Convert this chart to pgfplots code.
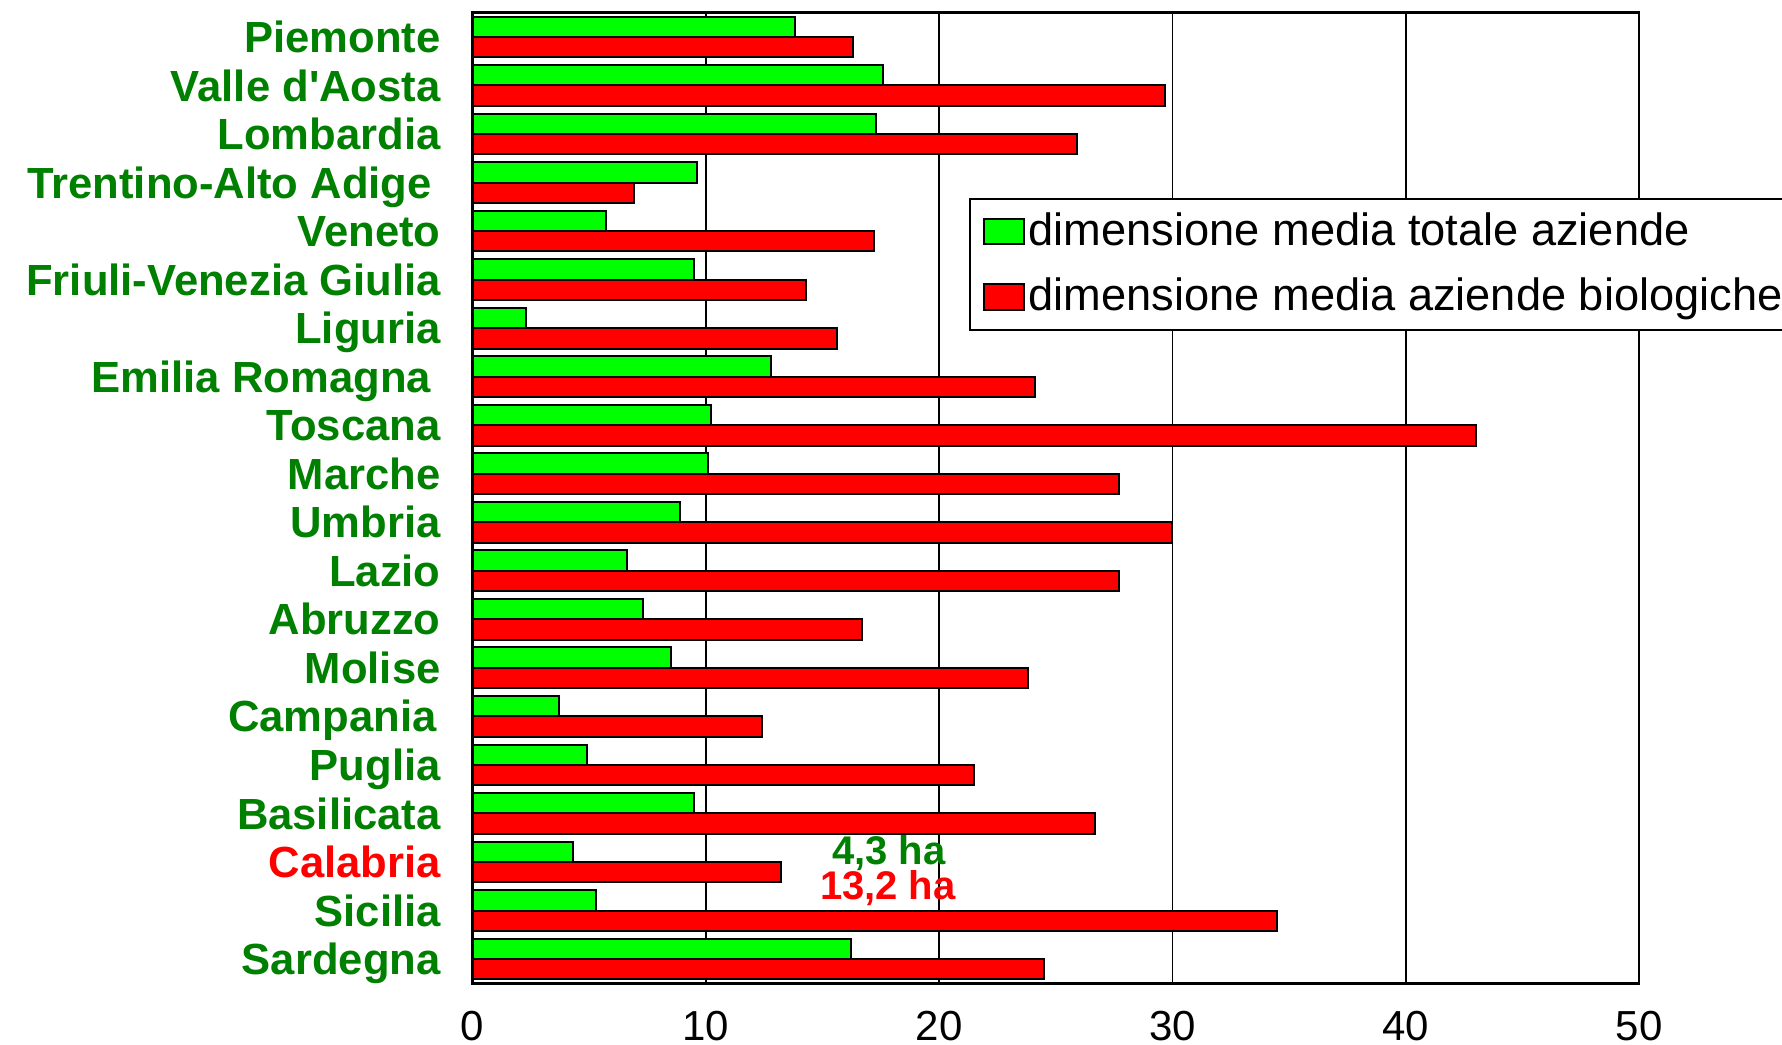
\documentclass[border=0pt]{standalone}
\usepackage{fontspec}
\setmainfont{Liberation Sans}
\usepackage{pgfplots}
\pgfplotsset{compat=1.18}
\definecolor{barg}{RGB}{0,255,0}
\definecolor{barr}{RGB}{255,0,0}
\definecolor{lblg}{RGB}{0,128,0}
\begin{document}
\begin{tikzpicture}
\begin{axis}[
  scale only axis, width=291.6pt, height=242.65pt,
  xbar, bar width=5.1pt,
  xmin=0, xmax=50, ymin=-0.5, ymax=19.5, y dir=reverse,
  xtick={0,10,...,50}, ytick={0,...,19},
  yticklabels={Piemonte, Valle d\textquotesingle Aosta, Lombardia, Trentino-Alto Adige\hspace*{2.2pt}, Veneto, Friuli-Venezia Giulia, Liguria, Emilia Romagna\hspace*{2.4pt}, Toscana, Marche, Umbria, Lazio, Abruzzo, Molise, Campania\hspace*{1pt}, Puglia, Basilicata, \textcolor{barr}{Calabria}, Sicilia, Sardegna},
  major tick length=0pt,
  xmajorgrids, grid style={black, line width=0.4pt},
  axis line style={black, line width=0.6pt},
  /pgf/number format/assume math mode=true,
  xticklabel style={font=\fontsize{10.5}{12}\selectfont, inner sep=0pt, anchor=north, yshift=-6.7pt},
  yticklabel style={font=\fontsize{10.9}{13}\selectfont\bfseries, text=lblg, inner sep=0pt, anchor=base east, xshift=-7.8pt, yshift=-3.9pt},
  clip=false,
  legend cell align=left,
  legend style={at={(0.4256,0.8088)}, anchor=north west, draw=black, line width=0.5pt, fill=white,
    inner xsep=3.2pt, inner ysep=2.95pt, row sep=5.9pt, font=\fontsize{11.3}{13}\selectfont,
    nodes={inner sep=0pt, text height=8.5pt, text depth=1.9pt},
    /tikz/every odd column/.append style={column sep=1pt}},
  legend image code/.code={\draw[#1] (0pt,-3.15pt) rectangle (10pt,3.15pt);},
]
\addplot[fill=barg, draw=black, line width=0.5pt, bar shift=2.55pt] coordinates {
(13.8,0) (17.6,1) (17.3,2) (9.6,3) (5.7,4) (9.5,5) (2.3,6) (12.8,7) (10.2,8) (10.1,9)
(8.9,10) (6.6,11) (7.3,12) (8.5,13) (3.7,14) (4.9,15) (9.5,16) (4.3,17) (5.3,18) (16.2,19)};
\addplot[fill=barr, draw=black, line width=0.5pt, bar shift=-2.55pt] coordinates {
(16.3,0) (29.7,1) (25.9,2) (6.9,3) (17.2,4) (14.3,5) (15.6,6) (24.1,7) (43.0,8) (27.7,9)
(30.0,10) (27.7,11) (16.7,12) (23.8,13) (12.4,14) (21.5,15) (26.7,16) (13.2,17) (34.5,18) (24.5,19)};
\legend{dimensione media totale aziende, dimensione media aziende biologiche}
\node[font=\fontsize{10}{12}\selectfont\bfseries, text=lblg, anchor=base] at (axis cs:17.85,17.06) {4,3 ha};
\node[font=\fontsize{10}{12}\selectfont\bfseries, text=barr, anchor=base] at (axis cs:17.8,17.78) {13,2 ha};
\coordinate (bbl) at (axis description cs:-0.40518,-0.06357);
\coordinate (btr) at (axis description cs:1.12260,1.01308);
\end{axis}
\pgfresetboundingbox
\useasboundingbox (bbl) rectangle (btr);
\end{tikzpicture}
\end{document}
